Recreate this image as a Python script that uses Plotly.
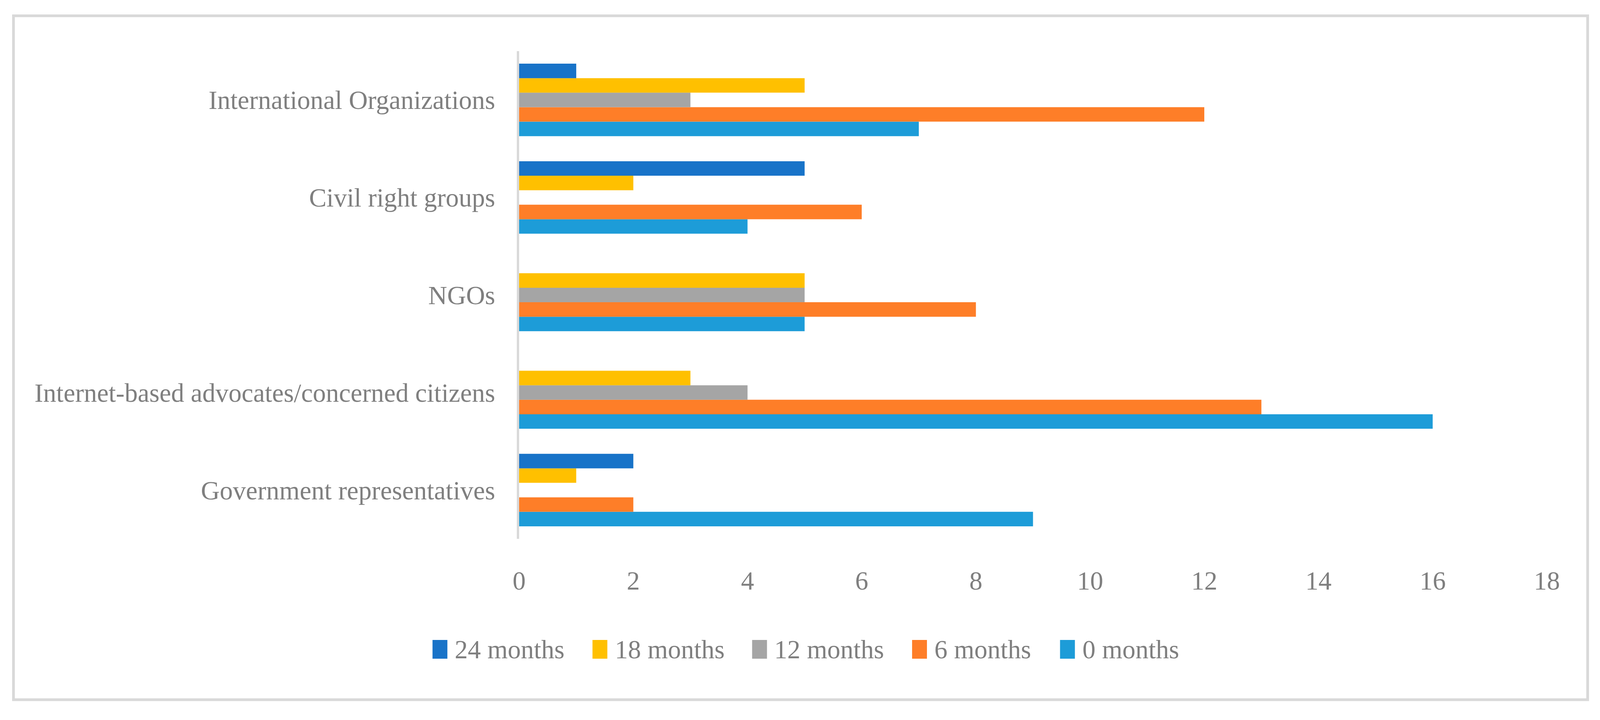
import plotly.graph_objects as go

# ---------------- data ----------------
categories = [
    "Government representatives",
    "Internet-based advocates/concerned citizens",
    "NGOs",
    "Civil right groups",
    "International Organizations",
]
series_names = ["0 months", "6 months", "12 months", "18 months", "24 months"]
values_0m = [9, 16, 5, 4, 7]
values_6m = [2, 13, 8, 6, 12]
values_12m = [0, 4, 5, 0, 3]
values_18m = [1, 3, 5, 2, 5]
values_24m = [2, 0, 0, 5, 1]
series_values = [values_0m, values_6m, values_12m, values_18m, values_24m]
series_colors = ["#1D9CD8", "#FE7E28", "#A5A5A5", "#FFC000", "#1873C8"]
x_ticks = [0, 2, 4, 6, 8, 10, 12, 14, 16, 18]

# ---------------- layout geometry ----------------
# reference frame is 5062 x 1844; the browser window is 4096 x 1844,
# so horizontal positions are scaled by SX.
REF_W = 5062
W, H = 4096, 1844
SX = W / REF_W
PL, PR, PT, PB = 1643 * SX, 4894 * SX, 131, 1380  # plot area edges
FONT = "Liberation Serif"
TXT = "#7F7F7F"
FS = 67


def px(xref_px):
    """reference-frame x pixel -> paper coordinate"""
    return (xref_px * SX - PL) / (PR - PL)


def py(yp):
    return (PB - yp) / (PB - PT)


fig = go.Figure()
for name, vals, col in zip(series_names, series_values, series_colors):
    fig.add_trace(go.Bar(
        y=categories, x=vals, name=name, orientation="h",
        marker=dict(color=col, line=dict(width=0)),
        showlegend=False,
    ))

shapes = [
    dict(type="rect", xref="paper", yref="paper",
         x0=px(43.5), x1=px(5023), y0=py(1792), y1=py(40.5),
         line=dict(color="#D9D9D9", width=7), fillcolor="rgba(0,0,0,0)",
         layer="below"),
]
annotations = []

# custom legend (order as in the reference: 24 -> 0 months)
legend_left = [1369, 1875, 2380, 2886, 3354]
sw_w, sw_top, sw_bot, txt_gap = 47, 1639, 1687, 21
for i, idx in enumerate(reversed(range(len(series_names)))):
    x0 = legend_left[i]
    shapes.append(dict(type="rect", xref="paper", yref="paper",
                       x0=px(x0), x1=px(x0 + sw_w), y0=py(sw_bot), y1=py(sw_top),
                       line=dict(width=0), fillcolor=series_colors[idx]))
    annotations.append(dict(xref="paper", yref="paper",
                            x=px(x0 + sw_w + txt_gap), y=py((sw_top + sw_bot) / 2),
                            xanchor="left", yanchor="middle", showarrow=False,
                            text=series_names[idx],
                            font=dict(family=FONT, size=FS, color=TXT)))

fig.update_layout(
    width=W, height=H,
    margin=dict(l=PL, r=W - PR, t=PT, b=H - PB, pad=0),
    paper_bgcolor="white", plot_bgcolor="white",
    barmode="group", bargap=0.257, bargroupgap=0,
    font=dict(family=FONT, size=FS, color=TXT),
    shapes=shapes, annotations=annotations,
    showlegend=False,
    xaxis=dict(range=[0, 18], tickvals=x_ticks, ticktext=[str(t) for t in x_ticks],
               showgrid=False, zeroline=False, showline=False, ticks="",
               ticklabelstandoff=62, tickfont=dict(family=FONT, size=FS, color=TXT),
               fixedrange=True),
    yaxis=dict(categoryorder="array", categoryarray=categories,
               showgrid=False, zeroline=False, showline=True,
               linecolor="#D9D9D9", linewidth=6, ticks="",
               ticklabelstandoff=42, tickfont=dict(family=FONT, size=FS, color=TXT),
               fixedrange=True),
)

post = "document.body.style.margin='0';document.body.style.overflow='hidden';"
fig.write_html("out.html", post_script=post, config={"displayModeBar": False})
